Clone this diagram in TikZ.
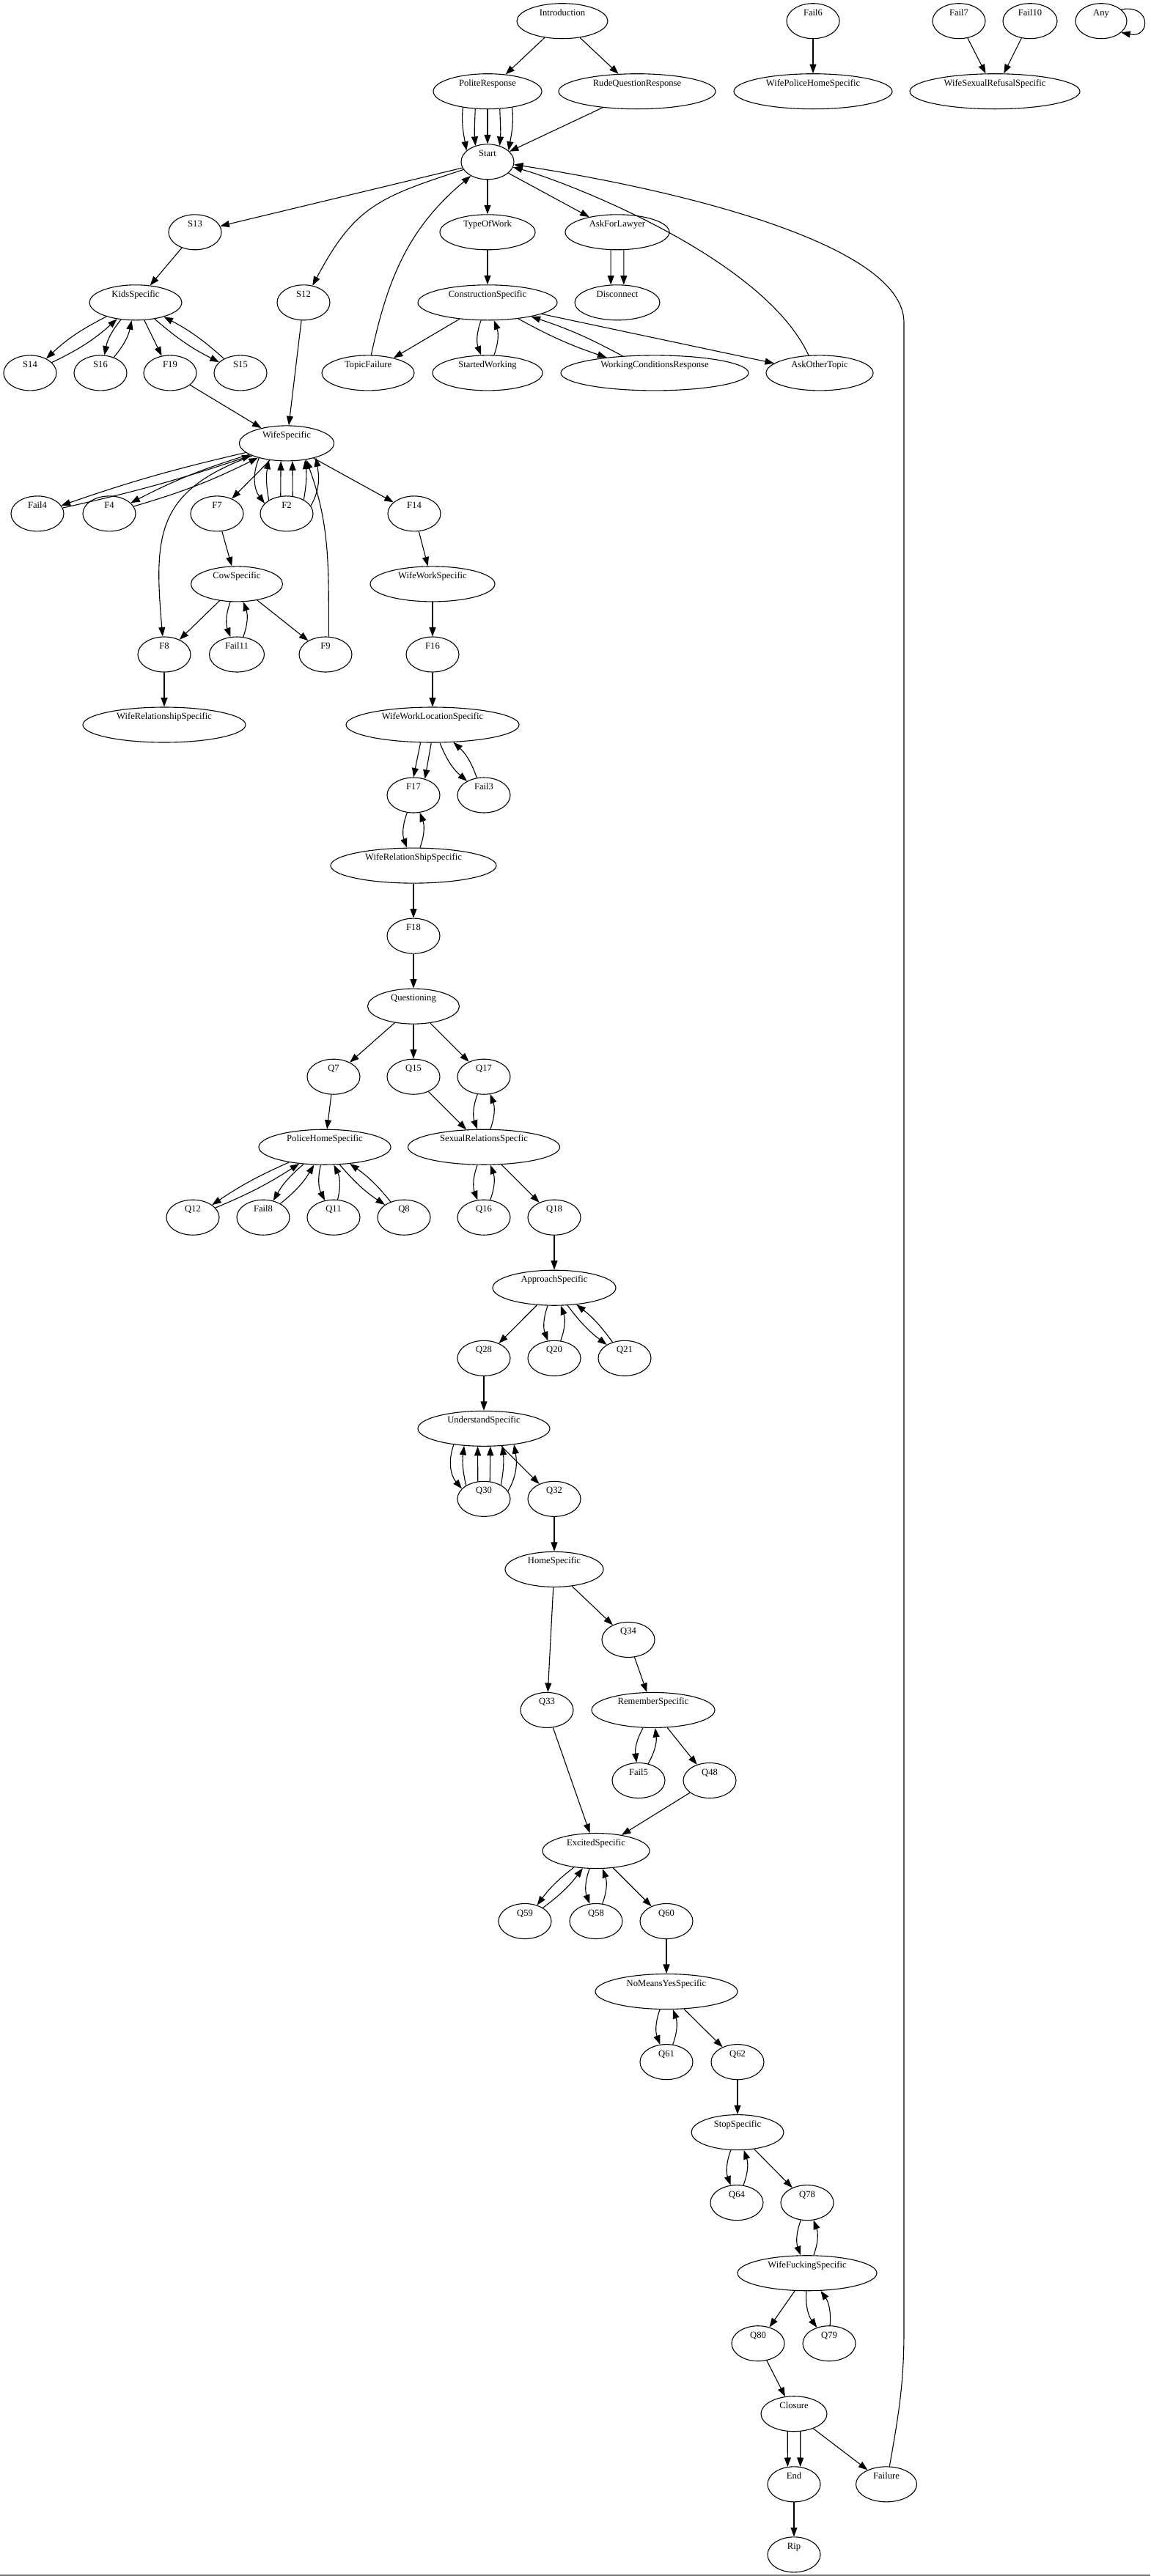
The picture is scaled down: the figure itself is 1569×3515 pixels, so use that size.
\documentclass[tikz,border=0pt]{standalone}
\usepackage{fontspec}
\setmainfont{Liberation Serif}
\usetikzlibrary{arrows.meta,shapes.geometric}

\begin{document}
\begin{tikzpicture}[x=1pt, y=1pt,
  nd/.style={draw, ellipse, line width=1.1pt, inner sep=0pt,
    minimum width=72pt, minimum height=48pt,
    text height=9pt, text depth=24pt, font=\fontsize{12.6}{14}\selectfont},
  edg/.style={line width=1.1pt, -{Triangle[length=12.5pt,width=9pt]}}]

\useasboundingbox (0,0) rectangle (1569,-3515);

\node[nd, minimum width=124pt] (intro) at (767,-28.7) {Introduction};
\node[nd] (fail6) at (1109,-28.7) {Fail6};
\node[nd] (fail7) at (1308,-28.7) {Fail7};
\node[nd, minimum width=74pt] (fail10) at (1405,-28.7) {Fail10};
\node[nd, minimum width=70pt] (any) at (1502,-28.7) {Any};

\node[nd, minimum width=148pt] (polite) at (665,-124.7) {PoliteResponse};
\node[nd, minimum width=214pt] (rude) at (869,-124.7) {RudeQuestionResponse};
\node[nd, minimum width=216pt] (wphs) at (1109,-124.7) {WifePoliceHomeSpecific};
\node[nd, minimum width=232pt] (wsrs) at (1357,-124.7) {WifeSexualRefusalSpecific};

\node[nd] (start) at (665,-220.8) {Start};

\node[nd] (s13) at (266,-316.8) {S13};
\node[nd, minimum width=130pt] (tow) at (665,-316.8) {TypeOfWork};
\node[nd, minimum width=142pt] (lawyer) at (842,-316.8) {AskForLawyer};

\node[nd, minimum width=126pt] (kids) at (185,-412.8) {KidsSpecific};
\node[nd] (s12) at (414,-412.8) {S12};
\node[nd, minimum width=190pt] (constr) at (665,-412.8) {ConstructionSpecific};
\node[nd, minimum width=116pt] (disc) at (842,-412.8) {Disconnect};

\node[nd] (s14) at (41,-508.9) {S14};
\node[nd] (s16) at (137,-508.9) {S16};
\node[nd] (f19) at (232,-508.9) {F19};
\node[nd] (s15) at (328,-508.9) {S15};
\node[nd, minimum width=126pt] (topicf) at (502,-508.9) {TopicFailure};
\node[nd, minimum width=150pt] (startedw) at (665,-508.9) {StartedWorking};
\node[nd, minimum width=256pt] (wcr) at (893,-508.9) {WorkingConditionsResponse};
\node[nd, minimum width=146pt] (askother) at (1118,-508.9) {AskOtherTopic};

\node[nd, minimum width=129pt] (ws) at (391,-604.9) {WifeSpecific};

\node[nd] (fail4) at (51,-700.9) {Fail4};
\node[nd] (f4) at (149,-700.9) {F4};
\node[nd] (f7) at (296,-700.9) {F7};
\node[nd] (f2) at (391,-700.9) {F2};
\node[nd] (f14) at (565,-700.9) {F14};

\node[nd, minimum width=125pt] (cow) at (323,-796.9) {CowSpecific};
\node[nd, minimum width=170pt] (wws) at (590,-796.9) {WifeWorkSpecific};

\node[nd] (f8) at (224,-893) {F8};
\node[nd, minimum width=75pt] (fail11) at (323,-893) {Fail11};
\node[nd] (f9) at (444,-893) {F9};
\node[nd] (f16) at (590,-893) {F16};

\node[nd, minimum width=222pt] (wrs) at (224,-989) {WifeRelationshipSpecific};
\node[nd, minimum width=236pt] (wwls) at (590,-989) {WifeWorkLocationSpecific};

\node[nd] (f17) at (564,-1085) {F17};
\node[nd] (fail3) at (660,-1085) {Fail3};
\node[nd, minimum width=226pt] (wrs2) at (564,-1181.1) {WifeRelationShipSpecific};
\node[nd] (f18) at (564,-1277.1) {F18};
\node[nd, minimum width=125pt] (quest) at (564,-1373.1) {Questioning};

\node[nd] (q7) at (455,-1469.2) {Q7};
\node[nd] (q15) at (564,-1469.2) {Q15};
\node[nd] (q17) at (660,-1469.2) {Q17};
\node[nd, minimum width=180pt] (phs) at (443,-1565.2) {PoliceHomeSpecific};
\node[nd, minimum width=207pt] (srs) at (660,-1565.2) {SexualRelationsSpecfic};

\node[nd] (q12) at (263,-1661.2) {Q12};
\node[nd] (fail8) at (359,-1661.2) {Fail8};
\node[nd] (q11) at (455,-1661.2) {Q11};
\node[nd] (q8) at (551,-1661.2) {Q8};
\node[nd] (q16) at (660,-1661.2) {Q16};
\node[nd] (q18) at (756,-1661.2) {Q18};

\node[nd, minimum width=168pt] (appr) at (756,-1757.2) {ApproachSpecific};
\node[nd] (q28) at (660,-1853.3) {Q28};
\node[nd] (q20) at (756,-1853.3) {Q20};
\node[nd] (q21) at (852,-1853.3) {Q21};
\node[nd, minimum width=180pt] (und) at (660,-1949.3) {UnderstandSpecific};
\node[nd] (q30) at (660,-2045.3) {Q30};
\node[nd] (q32) at (756,-2045.3) {Q32};
\node[nd, minimum width=134pt] (home) at (756,-2141.4) {HomeSpecific};
\node[nd] (q34) at (857,-2237.4) {Q34};
\node[nd] (q33) at (746,-2333.4) {Q33};
\node[nd, minimum width=168pt] (rem) at (891,-2333.4) {RememberSpecific};
\node[nd] (fail5) at (871,-2429.5) {Fail5};
\node[nd] (q48) at (968,-2429.5) {Q48};
\node[nd, minimum width=146pt] (exc) at (813,-2525.5) {ExcitedSpecific};
\node[nd] (q59) at (716,-2621.5) {Q59};
\node[nd] (q58) at (813,-2621.5) {Q58};
\node[nd] (q60) at (909,-2621.5) {Q60};
\node[nd, minimum width=194pt] (nmy) at (909,-2717.5) {NoMeansYesSpecific};
\node[nd] (q61) at (909,-2813.6) {Q61};
\node[nd] (q62) at (1006,-2813.6) {Q62};
\node[nd, minimum width=126pt] (stop) at (1006,-2909.6) {StopSpecific};
\node[nd] (q64) at (1005,-3005.6) {Q64};
\node[nd] (q78) at (1101,-3005.6) {Q78};
\node[nd, minimum width=190pt] (wfs) at (1101,-3101.7) {WifeFuckingSpecific};
\node[nd] (q80) at (1034,-3197.7) {Q80};
\node[nd] (q79) at (1131,-3197.7) {Q79};
\node[nd, minimum width=90pt] (closure) at (1083,-3293.7) {Closure};
\node[nd] (finish) at (1083,-3389.8) {End};
\node[nd, minimum width=83pt] (failure) at (1209,-3389.8) {Failure};
\node[nd] (rip) at (1083,-3485.8) {Rip};

\foreach \src/\dst in {intro/polite, intro/rude, fail6/wphs, fail7/wsrs, fail10/wsrs,
  rude/start, start/s13, start/tow, start/lawyer, s13/kids, tow/constr, s12/ws,
  kids/f19, f19/ws, constr/topicf, constr/askother, ws/f7, ws/f14, f7/cow, cow/f8,
  cow/f9, f14/wws, wws/f16, f16/wwls, f8/wrs, wrs2/f18, f18/quest, quest/q7,
  quest/q15, quest/q17, q7/phs, q15/srs, srs/q18, q18/appr, appr/q28, q28/und,
  und/q32, q32/home, home/q33, home/q34, q34/rem, q33/exc, rem/q48, q48/exc,
  exc/q60, q60/nmy, nmy/q62, q62/stop, stop/q78, wfs/q80, q80/closure,
  closure/failure, finish/rip}
  \draw[edg] (\src) -- (\dst);

\foreach \src/\dst/\ang in {kids/s14/8, kids/s16/14, kids/s15/7, constr/startedw/20,
  constr/wcr/5, ws/fail4/3, ws/f4/5, cow/fail11/20, wwls/fail3/14, f17/wrs2/20,
  q17/srs/20, phs/q12/5, phs/fail8/10, phs/q11/20, phs/q8/8, srs/q16/20,
  appr/q20/20, appr/q21/8, rem/fail5/18, exc/q59/8, exc/q58/20, nmy/q61/20,
  stop/q64/20, q78/wfs/20, wfs/q79/20}
{
  \draw[edg] (\src) to[bend right=\ang] (\dst);
  \draw[edg] (\dst) to[bend right=\ang] (\src);
}

\draw[edg] (polite.-147) to[out=-95,in=100] (start.152);
\draw[edg] (polite.-125) to[out=-92,in=95] (start.127);
\draw[edg] (polite.-90) -- (start.90);
\draw[edg] (polite.-55) to[out=-88,in=85] (start.53);
\draw[edg] (polite.-33) to[out=-85,in=80] (start.28);

\draw[edg] (lawyer.-110) -- (disc.110);
\draw[edg] (lawyer.-70) -- (disc.70);
\draw[edg] (wwls.-124) -- (f17.90);
\draw[edg] (wwls.-94) -- (f17.55);
\draw[edg] (closure.-110) -- (finish.110);
\draw[edg] (closure.-70) -- (finish.70);

\draw[edg] (ws.-152) to[bend right=30] (f2.155);
\draw[edg] (f2.143) to[bend left=10] (ws.-137);
\draw[edg] (f2.109) -- (ws.-108);
\draw[edg] (f2.71) -- (ws.-72);
\draw[edg] (f2.39) to[bend right=8] (ws.-42);
\draw[edg] (f2.18) to[out=60,in=-80] (ws.-26);

\draw[edg] (und.-152) to[bend right=30] (q30.155);
\draw[edg] (q30.143) to[bend left=10] (und.-139);
\draw[edg] (q30.109) -- (und.-109);
\draw[edg] (q30.71) -- (und.-70);
\draw[edg] (q30.39) to[bend right=8] (und.-43);
\draw[edg] (q30.18) to[out=60,in=-80] (und.-28);

\draw[edg] (start) to[out=-162,in=62,looseness=1.2] (s12);
\draw[edg] (topicf.80) to[out=78,in=-140] (start);
\draw[edg] (askother.122) .. controls (1040,-348) and (760,-244) .. (start.-12);
\draw[edg] (failure.80) to[out=80,in=-90] (1233,-3180) -- (1233,-440)
  .. controls (1233,-332) and (919,-258) .. (start.-6);
\draw[edg] (ws) to[out=-160,in=95,looseness=1.3] (f8);
\draw[edg] (f9.80) to[out=90,in=-70] (ws.-40);
\draw[edg] (any.30) .. controls +(41,8) and +(41,-8) .. (any.-30);

\draw[black!55, line width=1.5pt] (0,-3514.2) -- (1569,-3514.2);

\end{tikzpicture}
\end{document}
